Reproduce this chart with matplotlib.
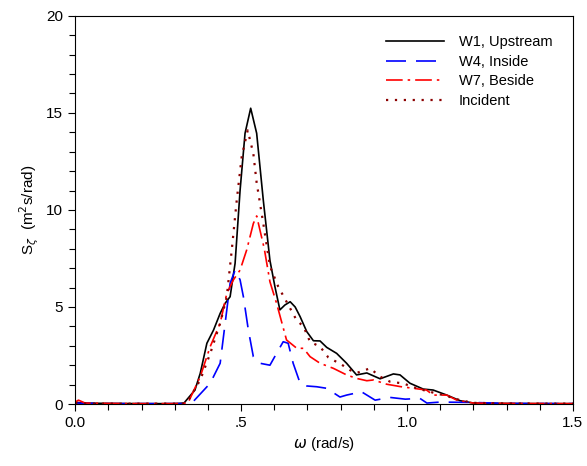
import matplotlib
matplotlib.use('Agg')
import matplotlib.pyplot as plt
from matplotlib.ticker import MultipleLocator, FixedLocator

plt.rcParams['font.family'] = ['Liberation Sans', 'DejaVu Sans']

# W1, Upstream
w1_x = [0.0, 0.02, 0.1, 0.2, 0.3, 0.328, 0.361, 0.377, 0.397, 0.417, 0.437, 0.452, 0.467,
        0.482, 0.497, 0.512, 0.529, 0.547, 0.567, 0.587, 0.602, 0.617, 0.632, 0.648, 0.663,
        0.678, 0.698, 0.718, 0.738, 0.758, 0.788, 0.818, 0.848, 0.879, 0.919, 0.959, 0.979,
        1.009, 1.049, 1.079, 1.12, 1.16, 1.2, 1.3, 1.4, 1.5]
w1_y = [0.1, 0.05, 0.03, 0.02, 0.02, 0.05, 0.72, 1.58, 3.13, 3.81, 4.67, 5.19, 5.53,
        7.25, 11.0, 13.95, 15.24, 13.95, 10.5, 7.4, 6.05, 4.85, 5.1, 5.27, 5.0,
        4.5, 3.73, 3.26, 3.25, 2.92, 2.61, 2.1, 1.5, 1.6, 1.3, 1.55, 1.5,
        1.07, 0.77, 0.72, 0.46, 0.17, 0.05, 0.03, 0.02, 0.02]

# W4, Inside
w4_x = [0.0, 0.1, 0.2, 0.3, 0.35, 0.407, 0.437, 0.452, 0.467, 0.482, 0.497, 0.507, 0.522,
        0.537, 0.557, 0.587, 0.607, 0.627, 0.642, 0.657, 0.678, 0.698, 0.728, 0.758, 0.798,
        0.818, 0.863, 0.904, 0.949, 0.995, 1.039, 1.06, 1.1, 1.2, 1.3, 1.5]
w4_y = [0.05, 0.02, 0.02, 0.02, 0.02, 1.07, 2.1, 4.16, 6.22, 6.9, 6.4, 5.53, 3.81,
        2.44, 2.1, 2.0, 2.61, 3.21, 3.13, 2.1, 1.07, 0.93, 0.89, 0.81, 0.36,
        0.46, 0.63, 0.2, 0.34, 0.25, 0.29, 0.05, 0.1, 0.08, 0.03, 0.02]

# W7, Beside
w7_x = [0.0, 0.01, 0.03, 0.1, 0.2, 0.3, 0.34, 0.377, 0.407, 0.437, 0.457, 0.477, 0.497,
        0.517, 0.537, 0.547, 0.57, 0.587, 0.607, 0.637, 0.668, 0.688, 0.708, 0.738, 0.778,
        0.818, 0.848, 0.879, 0.899, 0.939, 0.979, 1.019, 1.059, 1.079, 1.12, 1.15, 1.2,
        1.3, 1.5]
w7_y = [0.1, 0.2, 0.05, 0.03, 0.02, 0.02, 0.05, 1.41, 2.96, 4.16, 5.7, 6.4, 6.9,
        7.94, 9.3, 9.69, 8.0, 6.3, 5.19, 3.3, 2.87, 2.87, 2.44, 2.1, 1.84,
        1.5, 1.32, 1.2, 1.24, 1.02, 0.9, 0.81, 0.72, 0.46, 0.46, 0.2, 0.05,
        0.03, 0.02]

# Incident
inc_x = [0.0, 0.05, 0.2, 0.33, 0.345, 0.377, 0.407, 0.437, 0.457, 0.472, 0.487, 0.502,
         0.52, 0.537, 0.547, 0.567, 0.587, 0.612, 0.637, 0.668, 0.688, 0.708, 0.738, 0.763,
         0.803, 0.828, 0.848, 0.889, 0.919, 0.949, 0.989, 1.029, 1.069, 1.12, 1.16, 1.2,
         1.3, 1.5]
inc_y = [0.05, 0.02, 0.02, 0.02, 0.3, 1.24, 2.6, 4.16, 5.53, 7.94, 10.5, 12.75,
         14.1, 12.9, 11.4, 9.3, 7.1, 6.05, 5.27, 4.3, 4.0, 3.2, 2.96, 2.4,
         2.03, 1.75, 1.6, 1.84, 1.41, 1.15, 1.06, 0.81, 0.63, 0.41, 0.2, 0.06,
         0.03, 0.02]

fig = plt.figure(figsize=(5.87, 4.66), dpi=100)
ax = fig.add_axes([0.128, 0.133, 0.848, 0.833])

ax.plot(w1_x, w1_y, color='black', lw=1.2, label='W1, Upstream')
ax.plot(w4_x, w4_y, color='blue', lw=1.2, dashes=(12, 6), label='W4, Inside')
ax.plot(w7_x, w7_y, color='red', lw=1.2, dashes=(10, 3, 1.5, 3), label='W7, Beside')
ax.plot(inc_x, inc_y, color='#8b0000', lw=1.6, linestyle=(0, (1, 3)), label='Incident')

ax.set_xlim(0, 1.5)
ax.set_ylim(0, 20)
ax.xaxis.set_major_locator(FixedLocator([0, 0.5, 1.0, 1.5]))
ax.set_xticklabels(['0.0', '.5', '1.0', '1.5'])
ax.xaxis.set_minor_locator(MultipleLocator(0.1))
ax.yaxis.set_major_locator(MultipleLocator(5))
ax.yaxis.set_minor_locator(MultipleLocator(1))
ax.tick_params(which='both', direction='out', labelsize=11, width=0.8)
ax.tick_params(which='major', length=5)
ax.tick_params(which='minor', length=4)

ax.set_xlabel(r'$\omega$ (rad/s)', fontsize=11)
ax.set_ylabel(r'S$_\zeta$  (m$^2$s/rad)', fontsize=11)

ax.legend(loc='upper right', bbox_to_anchor=(0.985, 0.985), frameon=False,
          fontsize=10.5, handlelength=4, labelspacing=0.4, handletextpad=1.0)

fig.savefig('out.png', dpi=100)
